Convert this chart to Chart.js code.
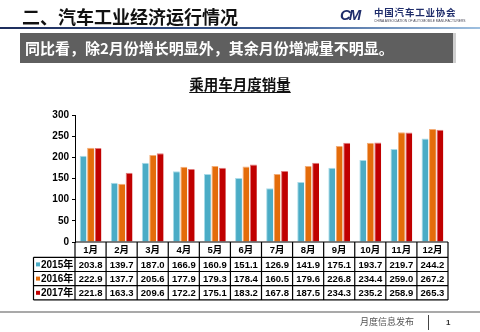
<!DOCTYPE html>
<html><head><meta charset="utf-8">
<script src="https://cdn.jsdelivr.net/npm/chart.js@4.4.1/dist/chart.umd.min.js"></script>
<style>
html,body{margin:0;padding:0;background:#fff;}
body{width:480px;height:332px;overflow:hidden;position:relative;font-family:"Noto Sans CJK SC","Liberation Sans",sans-serif;}
#c{position:absolute;left:0;top:0;}
.abs{position:absolute;white-space:nowrap;}
</style></head>
<body>
<canvas id="c" width="480" height="332"></canvas>
<div class="abs" style="left:22px;top:4px;font-size:18px;line-height:24px;font-weight:bold;color:#111;">二、汽车工业经济运行情况</div>
<div class="abs" style="left:0;top:27px;width:480px;height:2px;background:linear-gradient(to right,#1d2d5c,#3f5f96 60%,#9ec0e0);"></div>
<div class="abs" style="left:340px;top:6px;font-family:'Liberation Sans',sans-serif;font-style:italic;font-weight:bold;font-size:15px;letter-spacing:-2px;color:#1f2d6b;line-height:18px;">CM</div>
<div class="abs" style="left:374px;top:6px;font-size:9.5px;line-height:12px;font-weight:bold;color:#1f2d6b;letter-spacing:0.8px;">中国汽车工业协会</div>
<div class="abs" style="left:374px;top:19px;font-size:6px;line-height:6px;color:#445;transform:scale(0.55,0.6);transform-origin:0 0;font-family:'Liberation Sans',sans-serif;">CHINA ASSOCIATION OF AUTOMOBILE MANUFACTURERS</div>
<div class="abs" style="left:20px;top:33px;width:433px;height:30px;background:#5f5f5f;box-shadow:3px 0 0 #cfcfcf;"></div>
<div class="abs" style="left:25px;top:33px;height:30px;line-height:30px;font-size:15px;font-weight:bold;color:#fff;">同比看，除2月份增长明显外，其余月份增减量不明显。</div>
<div class="abs" style="left:0;top:74px;width:480px;text-align:center;font-size:14.5px;line-height:20px;font-weight:bold;color:#111;text-decoration:underline;text-underline-offset:2px;">乘用车月度销量</div>
<div class="abs" style="left:0;top:311px;width:480px;height:2px;background:#a9a9a9;"></div>
<div class="abs" style="left:360px;top:315px;font-size:9px;line-height:14px;color:#555;">月度信息发布</div>
<div class="abs" style="left:428px;top:315px;width:1px;height:15px;background:#444;"></div>
<div class="abs" style="left:446px;top:317px;font-size:8px;line-height:12px;font-weight:bold;color:#333;font-family:'Liberation Sans',sans-serif;">1</div>
<script>
const categories = ['1月','2月','3月','4月','5月','6月','7月','8月','9月','10月','11月','12月'];
const seriesNames = ['2015年','2016年','2017年'];
const sales2015 = [203.8,139.7,187.0,166.9,160.9,151.1,126.9,141.9,175.1,193.7,219.7,244.2];
const sales2016 = [222.9,137.7,205.6,177.9,179.3,178.4,160.5,179.6,226.8,234.4,259.0,267.2];
const sales2017 = [221.8,163.3,209.6,172.2,175.1,183.2,167.8,187.5,234.3,235.2,258.9,265.3];
const yTicks = [0,50,100,150,200,250,300];

const colors = ['#4bacc6','#e46c0a','#c00000'];
const edgeColors = ['#a9dbe8','#f3ad78','#e07a7a'];
const seriesData = [sales2015, sales2016, sales2017];

const FONT = '"Liberation Sans", Arial, "Noto Sans CJK SC", sans-serif';

const tablePlugin = {
  id: 'dataTable',
  afterDraw(chart) {
    const ctx = chart.ctx, xs = chart.scales.x, area = chart.chartArea;
    const n = categories.length;
    const colW = (xs.right - xs.left) / n;
    const top = area.bottom, headH = 15.3, rowH = 14.2;
    const legL = xs.left - 41.5;
    const bottom = top + headH + rowH * seriesData.length;
    ctx.save();
    ctx.strokeStyle = '#000';
    ctx.lineWidth = 1.2;
    ctx.beginPath();
    ctx.moveTo(xs.left, top); ctx.lineTo(xs.right, top);
    for (let i = 0; i <= seriesData.length; i++) {
      const y = top + headH + rowH * i;
      ctx.moveTo(legL, y); ctx.lineTo(xs.right, y);
    }
    for (let j = 0; j <= n; j++) {
      const x = xs.getPixelForValue(0) - colW / 2 + colW * j;
      ctx.moveTo(x, top); ctx.lineTo(x, bottom);
    }
    ctx.moveTo(legL, top + headH); ctx.lineTo(legL, bottom);
    ctx.stroke();

    ctx.fillStyle = '#000';
    ctx.font = 'bold 9.5px ' + FONT;
    ctx.textAlign = 'center';
    ctx.textBaseline = 'middle';
    categories.forEach((c, j) => {
      ctx.fillText(c, xs.getPixelForValue(j), top + headH / 2 + 0.5);
    });
    seriesData.forEach((arr, i) => {
      const cy = top + headH + rowH * i + rowH / 2 + 0.5;
      arr.forEach((v, j) => {
        ctx.fillText(v.toFixed(1), xs.getPixelForValue(j), cy);
      });
      ctx.fillStyle = colors[i];
      ctx.fillRect(legL + 2.5, cy - 2.5, 4, 4);
      ctx.fillStyle = '#000';
      ctx.textAlign = 'left';
      ctx.font = 'bold 10px ' + FONT;
      ctx.fillText(seriesNames[i], legL + 7.5, cy);
      ctx.font = 'bold 9.5px ' + FONT;
      ctx.textAlign = 'center';
    });
    ctx.restore();
  }
};

new Chart(document.getElementById('c'), {
  type: 'bar',
  data: {
    labels: categories,
    datasets: seriesData.map((d, i) => ({
      label: seriesNames[i],
      data: d,
      backgroundColor: colors[i],
      borderColor: edgeColors[i],
      borderWidth: {left: 1, top: 1, right: 0, bottom: 0},
      borderSkipped: false,
      categoryPercentage: 0.72,
      barPercentage: 0.92
    }))
  },
  options: {
    responsive: false,
    animation: false,
    devicePixelRatio: 1,
    layout: {padding: {left: 40, right: 32, top: 115, bottom: 90}},
    plugins: {legend: {display: false}, tooltip: {enabled: false}, title: {display: false}},
    scales: {
      x: {display: false, grid: {display: false}},
      y: {
        min: 0, max: 300,
        afterFit(scale) { scale.width = 35; },
        afterBuildTicks(scale) { scale.ticks = yTicks.map(v => ({value: v})); },
        ticks: {color: '#000', font: {family: FONT, size: 10, weight: 'bold'}, padding: 3},
        grid: {display: true, drawOnChartArea: false, drawTicks: true, tickLength: 3, color: '#000', lineWidth: 1},
        border: {display: true, color: '#000', width: 1}
      }
    }
  },
  plugins: [tablePlugin]
});
</script>
</body></html>
